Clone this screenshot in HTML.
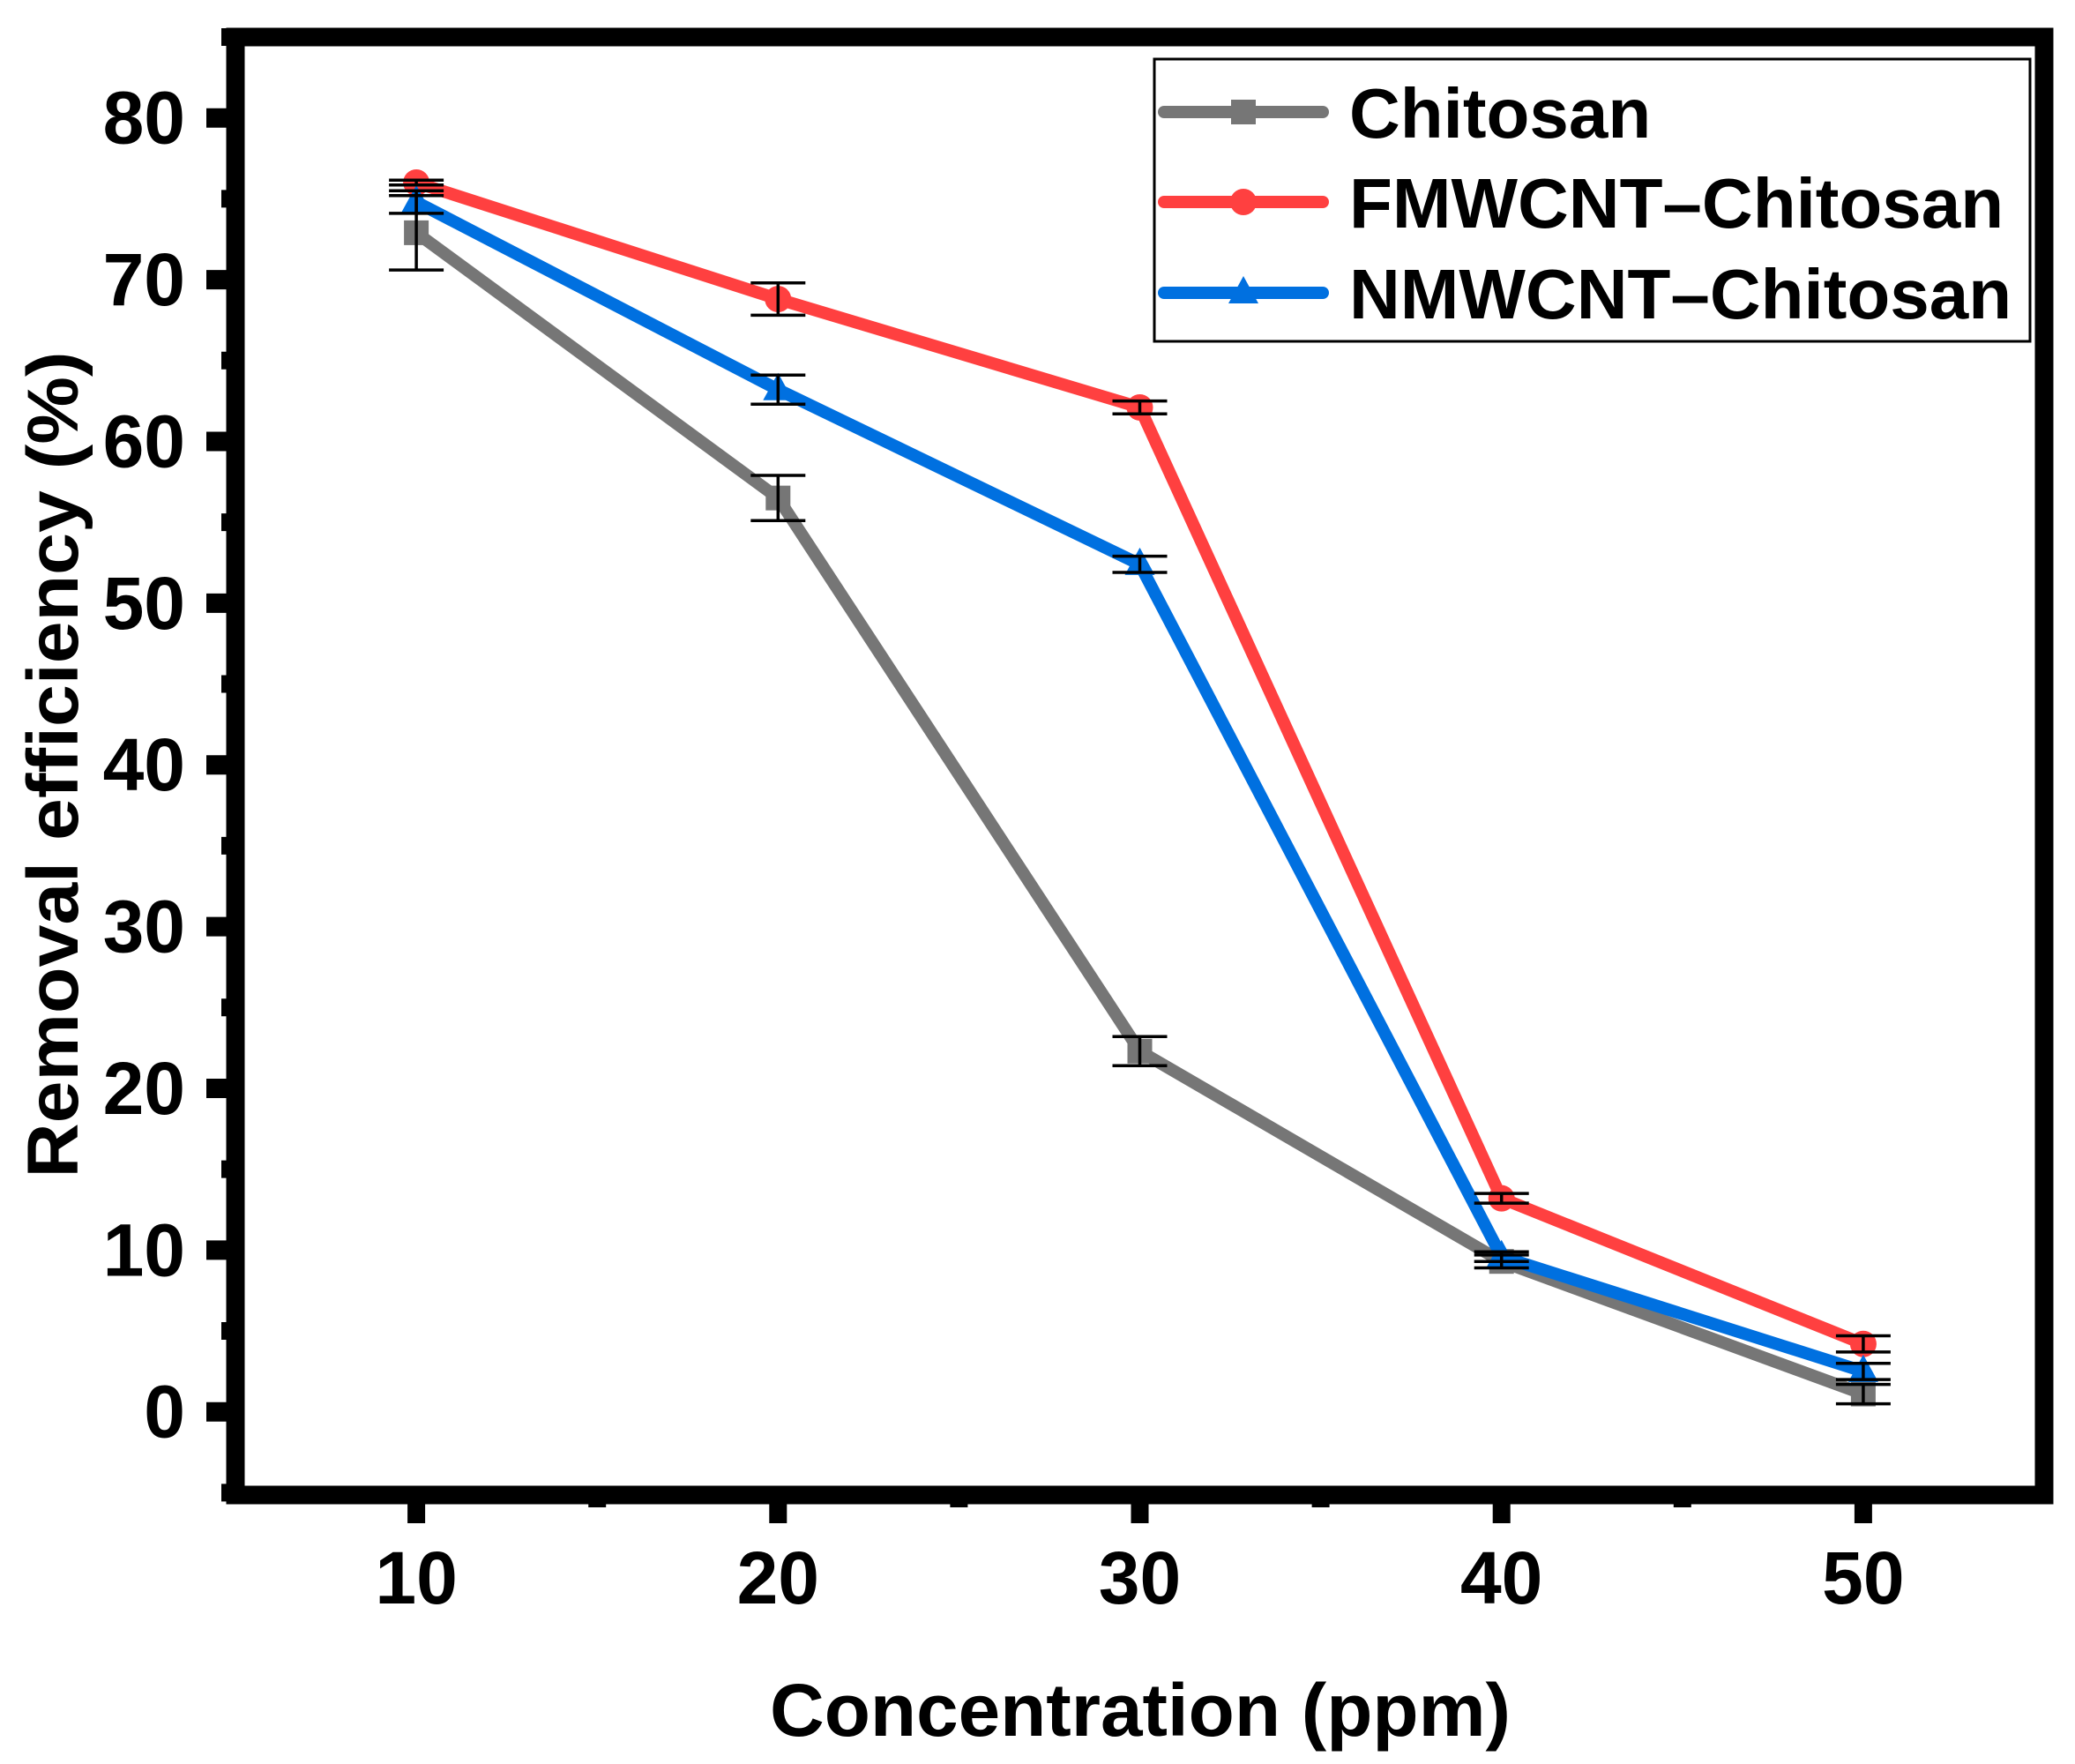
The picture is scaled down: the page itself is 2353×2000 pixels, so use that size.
<!DOCTYPE html>
<html><head><meta charset="utf-8"><style>
html,body{margin:0;padding:0;background:#fff;}
svg{display:block;}
text{font-family:"Liberation Sans",Arial,sans-serif;font-weight:bold;fill:#000;}
</style></head>
<body>
<svg id="chart" width="2353" height="2000" viewBox="0 0 2353 2000" xmlns="http://www.w3.org/2000/svg">
<g id="grid"></g>
<g id="series"></g>
<g id="axes"></g>
<text x="1293" y="1968" font-size="84" text-anchor="middle" textLength="840" lengthAdjust="spacingAndGlyphs">Concentration (ppm)</text>
<text transform="translate(88,867) rotate(-90)" font-size="82" text-anchor="middle" textLength="937" lengthAdjust="spacingAndGlyphs">Removal efficiency (%)</text>
<g id="legend">
<rect x="1309" y="67" width="993" height="320" fill="#fff" stroke="#000" stroke-width="3"/>
</g>
</svg>
<script>
const categories = [10, 20, 30, 40, 50];
const chitosanValues = [72.9, 56.5, 22.3, 9.3, 1.1];
const chitosanErrors = [2.3, 1.4, 0.9, 0.4, 0.6];
const fmwcntValues = [76.0, 68.8, 62.1, 13.2, 4.2];
const fmwcntErrors = [0.15, 1.0, 0.4, 0.3, 0.5];
const nmwcntValues = [74.8, 63.2, 52.4, 9.6, 2.5];
const nmwcntErrors = [0.7, 0.9, 0.5, 0.3, 0.5];
const yTickLabels = [0, 10, 20, 30, 40, 50, 60, 70, 80];
const xTickLabels = [10, 20, 30, 40, 50];

const NS = "http://www.w3.org/2000/svg";
const L = 267, R = 2318, T = 42, B = 1695;
const xMin = 5, xMax = 55, yMin = -5.14, yMax = 85;
function xs(v){ return L + (v - xMin) / (xMax - xMin) * (R - L); }
function ys(v){ return B - (v - yMin) / (yMax - yMin) * (B - T); }
function mk(tag, attrs, parent){
  const e = document.createElementNS(NS, tag);
  for (const k in attrs) e.setAttribute(k, attrs[k]);
  parent.appendChild(e);
  return e;
}
const axes = document.getElementById('axes');
const seriesG = document.getElementById('series');

// ticks
xTickLabels.forEach(v => {
  const t = mk('line', {x1: xs(v), x2: xs(v), y1: B, y2: B + 32, stroke: '#000', 'stroke-width': 20}, axes);
  
  
  const lb = mk('text', {x: xs(v), y: 1818, 'font-size': 84, 'text-anchor': 'middle'}, axes);
  lb.textContent = v;
  
  
});
for (let v = 15; v <= 45; v += 10) {
  const t = mk('line', {x1: xs(v), x2: xs(v), y1: B, y2: B + 14, stroke: '#000', 'stroke-width': 20}, axes);
  
  
}
yTickLabels.forEach(v => {
  const t = mk('line', {x1: L - 33, x2: L, y1: ys(v), y2: ys(v), stroke: '#000', 'stroke-width': 22}, axes);
  
  
  const lb = mk('text', {x: 210, y: ys(v) + 29, 'font-size': 84, 'text-anchor': 'end'}, axes);
  lb.textContent = v;
  
  
});
for (let v = -5; v <= 85; v += 10) {
  const t = mk('line', {x1: L - 16, x2: L, y1: ys(v), y2: ys(v), stroke: '#000', 'stroke-width': 20}, axes);
  
  
}
const frame = mk('rect', {x: L, y: T, width: R - L, height: B - T, fill: 'none', stroke: '#000', 'stroke-width': 21}, axes);



function marker(shape, cx, cy, color, parent){
  let m;
  if (shape === 'square') m = mk('rect', {x: cx - 14, y: cy - 14, width: 28, height: 28, fill: color}, parent);
  else if (shape === 'circle') m = mk('circle', {cx: cx, cy: cy, r: 15, fill: color}, parent);
  else m = mk('polygon', {points: `${cx},${cy-19} ${cx+17},${cy+12} ${cx-17},${cy+12}`, fill: color}, parent);
  return m;
}

const series = [
  {name: 'chitosan', vals: chitosanValues, errs: chitosanErrors, color: '#767676', shape: 'square'},
  {name: 'fmwcnt-chitosan', vals: fmwcntValues, errs: fmwcntErrors, color: '#FF4040', shape: 'circle'},
  {name: 'nmwcnt-chitosan', vals: nmwcntValues, errs: nmwcntErrors, color: '#0070E0', shape: 'triangle'}
];
series.forEach(s => {
  const g = mk('g', {}, seriesG);
  
  
  const pts = categories.map((c, i) => xs(c) + ',' + ys(s.vals[i])).join(' ');
  const pl = mk('polyline', {points: pts, fill: 'none', stroke: s.color, 'stroke-width': 14, 'stroke-linejoin': 'round'}, g);
  
  
  categories.forEach((c, i) => {
    const m = marker(s.shape, xs(c), ys(s.vals[i]), s.color, g);
    
    
  });
});
series.forEach(s => {
  categories.forEach((c, i) => {
    const x = xs(c), y1 = ys(s.vals[i] + s.errs[i]), y2 = ys(s.vals[i] - s.errs[i]);
    const eg = mk('g', {stroke: '#000', 'stroke-width': 3.5}, seriesG);
    
    
    mk('line', {x1: x, x2: x, y1: y1, y2: y2}, eg);
    mk('line', {x1: x - 31, x2: x + 31, y1: y1, y2: y1}, eg);
    mk('line', {x1: x - 31, x2: x + 31, y1: y2, y2: y2}, eg);
  });
});

// legend
const legend = document.getElementById('legend');
const legendLabels = ['Chitosan', 'FMWCNT\u2013Chitosan', 'NMWCNT\u2013Chitosan'];
const legendRows = [127, 229, 332];
series.forEach((s, i) => {
  const g = mk('g', {}, legend);
  
  
  mk('line', {x1: 1320, x2: 1500, y1: legendRows[i], y2: legendRows[i], stroke: s.color, 'stroke-width': 14, 'stroke-linecap': 'round'}, g);
  marker(s.shape, 1410, legendRows[i], s.color, g);
  const t = mk('text', {x: 1530, y: legendRows[i] + 29, 'font-size': 80}, g);
  t.textContent = legendLabels[i];
});
</script>
</body></html>
